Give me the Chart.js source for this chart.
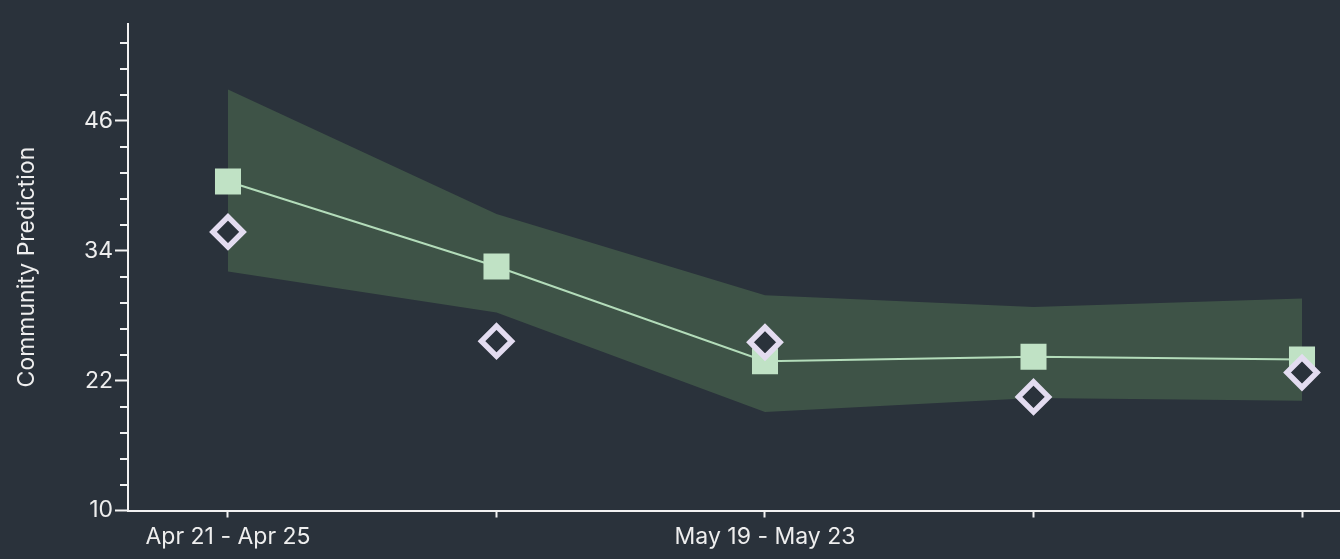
<!DOCTYPE html>
<html>
<head>
<meta charset="utf-8">
<script src="https://cdn.jsdelivr.net/npm/chart.js@4.4.1/dist/chart.umd.min.js"></script>
<style>
  html, body { margin: 0; padding: 0; background: #2a323b; }
  #wrap { width: 1340px; height: 559px; position: relative; }
</style>
</head>
<body>
<div id="wrap"><canvas id="c" width="1340" height="559"></canvas></div>
<script>
// ---- data ----
const periods = ["Apr 21 - Apr 25", "May 5 - May 9", "May 19 - May 23", "Jun 2 - Jun 6", "Jun 16 - Jun 20"];
const shownPeriodLabels = [0, 2];
const xIndex = [0, 1, 2, 3, 4];
const median = [40.4, 32.55, 23.8, 24.2, 23.95];
const upperBound = [48.9, 37.4, 29.9, 28.8, 29.6];
const lowerBound = [32.1, 28.3, 19.1, 20.4, 20.15];
const actual = [35.75, 25.65, 25.55, 20.5, 22.75];
const yMajorTicks = [10, 22, 34, 46];
const yMinorTicks = [12.4, 14.8, 17.2, 19.6, 24.4, 26.8, 29.2, 31.6, 36.4, 38.8, 41.2, 43.6, 48.4, 50.8, 53.2];
const yTitle = "Community Prediction";

const pts = arr => xIndex.map((x, i) => ({ x: x, y: arr[i] }));

const BG = '#2a323b';
const AXIS = '#f2f2f2';
const TEXT = '#eeeeee';
const FONT = 'Inter, "Open Sans", sans-serif';

const minorTicks = {
  id: 'minorTicks',
  afterDraw(chart) {
    const ys = chart.scales.y;
    const ctx = chart.ctx;
    ctx.save();
    ctx.strokeStyle = AXIS;
    ctx.lineWidth = 2;
    const x0 = ys.right;
    yMinorTicks.forEach(v => {
      const py = Math.round(ys.getPixelForValue(v));
      ctx.beginPath();
      ctx.moveTo(x0 - 8, py);
      ctx.lineTo(x0, py);
      ctx.stroke();
    });
    ctx.restore();
  }
};

new Chart(document.getElementById('c'), {
  type: 'line',
  data: {
    datasets: [
      {
        label: 'actual',
        data: pts(actual),
        showLine: false,
        pointStyle: 'rectRot',
        pointRadius: 15,
        pointBorderWidth: 5.5,
        pointBorderColor: '#e3dcf0',
        pointBackgroundColor: BG,
        order: 0
      },
      {
        label: 'median',
        data: pts(median),
        borderColor: '#b3dcba',
        borderWidth: 2,
        tension: 0,
        pointStyle: 'rect',
        pointRadius: 18.4,
        pointBorderWidth: 0,
        pointBackgroundColor: '#c0e2c5',
        fill: false,
        order: 1
      },
      {
        label: 'upper',
        data: pts(upperBound),
        borderWidth: 0,
        pointRadius: 0,
        tension: 0,
        backgroundColor: '#3e5347',
        fill: '+1',
        order: 2
      },
      {
        label: 'lower',
        data: pts(lowerBound),
        borderWidth: 0,
        pointRadius: 0,
        tension: 0,
        fill: false,
        order: 3
      }
    ]
  },
  options: {
    responsive: false,
    animation: false,
    events: [],
    layout: { autoPadding: false, padding: { top: 23.6, right: 0, left: 0, bottom: 0 } },
    plugins: { legend: { display: false }, tooltip: { enabled: false } },
    scales: {
      x: {
        type: 'linear',
        min: -0.3724,
        max: 4.1415,
        afterBuildTicks: s => { s.ticks = xIndex.map(v => ({ value: v })); },
        afterFit: s => { s.height = 48.5; s.paddingLeft = 0; s.paddingRight = 0; },
        grid: { drawOnChartArea: false, tickLength: 7, tickColor: AXIS, tickWidth: 2 },
        border: { color: AXIS, width: 2 },
        ticks: {
          color: TEXT,
          font: { family: FONT, size: 23 },
          padding: 6,
          maxRotation: 0,
          autoSkip: false,
          callback: (v) => shownPeriodLabels.includes(v) ? periods[v] : ''
        }
      },
      y: {
        min: 10,
        max: 55,
        afterBuildTicks: s => { s.ticks = yMajorTicks.map(v => ({ value: v })); },
        afterFit: s => { s.width = 128; s.paddingTop = 0; s.paddingBottom = 0; },
        grid: { drawOnChartArea: false, tickLength: 13, tickColor: AXIS, tickWidth: 2 },
        border: { color: AXIS, width: 2 },
        ticks: {
          color: TEXT,
          font: { family: FONT, size: 23 },
          padding: 2,
          callback: v => String(v)
        },
        title: {
          display: true,
          text: yTitle,
          color: TEXT,
          font: { family: FONT, size: 23 },
          padding: { top: 13, bottom: 0 }
        }
      }
    }
  },
  plugins: [minorTicks]
});
</script>
</body>
</html>
